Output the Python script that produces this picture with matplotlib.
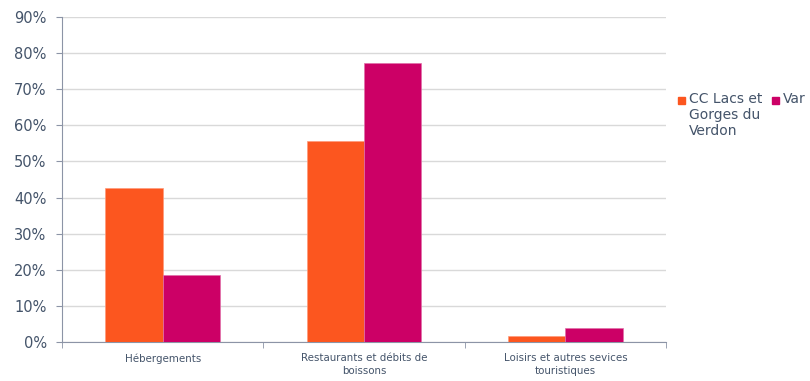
import numpy as np
import matplotlib
matplotlib.use('Agg')
from matplotlib import pyplot as plt
from matplotlib.patches import Rectangle
from matplotlib.ticker import FuncFormatter

categories = ['Hébergements', 'Restaurants et débits de\nboissons', 'Loisirs et autres sevices\ntouristiques']
series_names = ['CC Lacs et\nGorges du\nVerdon', 'Var']
cc_values = [42.6, 55.7, 1.7]
var_values = [18.6, 77.3, 3.9]
colors = ['#FC561F', '#CC0066']

text_col = '#44546A'
axis_col = '#8C94A6'

fig = plt.figure(figsize=(8.1, 3.81), dpi=100)
ax = fig.add_axes([0.0765, 0.1024, 0.7457, 0.853])

x = np.arange(len(categories))
w = 0.285
b1 = ax.bar(x - w / 2, cc_values, w, color=colors[0], edgecolor='#FF9A7A', linewidth=0.5, zorder=3)
b2 = ax.bar(x + w / 2, var_values, w, color=colors[1], edgecolor='#E070A8', linewidth=0.5, zorder=3)

ax.set_xlim(-0.5, len(categories) - 0.5)
ax.set_ylim(0, 90)
ax.set_yticks(np.arange(0, 91, 10))
ax.yaxis.set_major_formatter(FuncFormatter(lambda v, p: '%d%%' % v))
ax.yaxis.grid(True, color='#D9D9D9', linewidth=1, zorder=0)

ax.set_xticks(x)
ax.set_xticklabels(categories, fontsize=7.4, color=text_col, linespacing=1.35)
ax.set_xticks(np.arange(-0.5, len(categories), 1), minor=True)
ax.tick_params(axis='x', which='major', length=0, pad=8)
ax.tick_params(axis='x', which='minor', length=4, color=axis_col)
ax.tick_params(axis='y', length=4, color=axis_col, labelsize=10.5, labelcolor=text_col, pad=7)

for s in ['top', 'right']:
    ax.spines[s].set_visible(False)
for s in ['left', 'bottom']:
    ax.spines[s].set_color(axis_col)

# legend drawn by hand so the markers sit on the first line of text
W, H = 810.0, 381.0
leg_x = [678, 772]
for i, name in enumerate(series_names):
    fig.add_artist(Rectangle((leg_x[i] / W, 1 - 104 / H), 7 / W, 7 / H,
                             transform=fig.transFigure, color=colors[i]))
    fig.text((leg_x[i] + 11) / W, 1 - 92 / H, name, fontsize=10, color=text_col,
             va='top', ha='left', linespacing=1.2)

fig.savefig('out.png', dpi=100)
